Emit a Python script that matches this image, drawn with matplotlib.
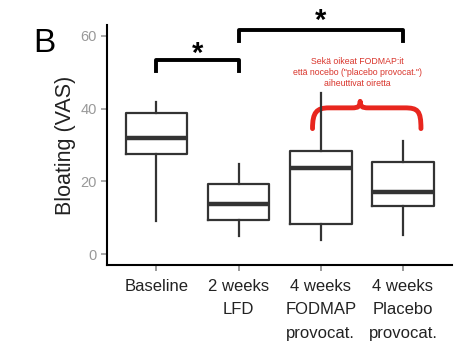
from matplotlib import pyplot as plt
from matplotlib.path import Path
from matplotlib.patches import PathPatch

plt.rcParams['font.family'] = ['Liberation Sans', 'DejaVu Sans']

groups = ['Baseline', '2 weeks\nLFD', '4 weeks\nFODMAP\nprovocat.', '4 weeks\nPlacebo\nprovocat.']
whislo = [9.2, 5.0, 4.0, 5.2]
q1 = [27.5, 9.4, 8.2, 13.2]
med = [32.0, 13.8, 23.6, 17.0]
q3 = [38.8, 19.3, 28.4, 25.2]
whishi = [41.7, 24.8, 44.4, 31.0]

note = 'Sekä oikeat FODMAP:it\nettä nocebo ("placebo provocat.")\naiheuttivat oiretta'

fig = plt.figure(figsize=(4.72, 3.51), dpi=100)
ax = fig.add_axes([0.227, 0.245, 0.731, 0.684])

stats = []
for i in range(len(groups)):
    stats.append({'whislo': whislo[i], 'q1': q1[i], 'med': med[i],
                  'q3': q3[i], 'whishi': whishi[i], 'fliers': []})

ax.bxp(stats, positions=[1, 2, 3, 4], widths=0.75, showcaps=False,
       boxprops=dict(color='#333333', linewidth=1.6),
       whiskerprops=dict(color='#333333', linewidth=1.6),
       medianprops=dict(color='#333333', linewidth=3.2))

ax.set_xlim(0.4, 4.6)
ax.set_ylim(-3, 63)
ax.set_yticks([0, 20, 40, 60])
ax.set_xticks([1, 2, 3, 4])
ax.set_xticklabels(groups, fontsize=12, color='#222222', linespacing=1.7)
ax.tick_params(axis='y', colors='#999999', labelsize=10.5, length=4, width=1.2)
ax.tick_params(axis='x', colors='#888888', labelcolor='#222222', length=4, width=1.2, pad=6)
for s in ['top', 'right']:
    ax.spines[s].set_visible(False)
for s in ['left', 'bottom']:
    ax.spines[s].set_linewidth(1.5)
    ax.spines[s].set_color('black')
ax.set_ylabel('Bloating (VAS)', fontsize=15.5, color='#222222', labelpad=3)

# significance brackets
ax.plot([1, 1, 2, 2], [50.4, 53.4, 53.4, 50.4], color='black', lw=2.8, clip_on=False)
ax.text(1.5, 51.1, '*', ha='center', va='bottom', fontsize=21, fontweight='bold')
ax.plot([2, 2, 4, 4], [58.7, 61.7, 61.7, 58.7], color='black', lw=2.8, clip_on=False)
ax.text(3.0, 60.2, '*', ha='center', va='bottom', fontsize=21, fontweight='bold', clip_on=False)

# red annotation
ax.text(3.45, 49.9, note, ha='center', va='center', fontsize=6.3, color='#d9352c', linespacing=1.3)
verts = [(2.9, 34.5),
         (2.9, 39.0), (2.95, 40.2), (3.1, 40.2),
         (3.38, 40.2),
         (3.46, 40.2), (3.48, 40.6), (3.48, 42.0),
         (3.48, 40.6), (3.50, 40.2), (3.58, 40.2),
         (4.02, 40.2),
         (4.18, 40.2), (4.22, 39.5), (4.22, 34.5)]
codes = [Path.MOVETO,
         Path.CURVE4, Path.CURVE4, Path.CURVE4,
         Path.LINETO,
         Path.CURVE4, Path.CURVE4, Path.CURVE4,
         Path.CURVE4, Path.CURVE4, Path.CURVE4,
         Path.LINETO,
         Path.CURVE4, Path.CURVE4, Path.CURVE4]
ax.add_patch(PathPatch(Path(verts, codes), facecolor='none', edgecolor='#e8261e', lw=3.5,
                       capstyle='round', joinstyle='round'))

fig.text(0.07, 0.875, 'B', fontsize=24, ha='left', va='center')

fig.savefig('out.png', dpi=100)
